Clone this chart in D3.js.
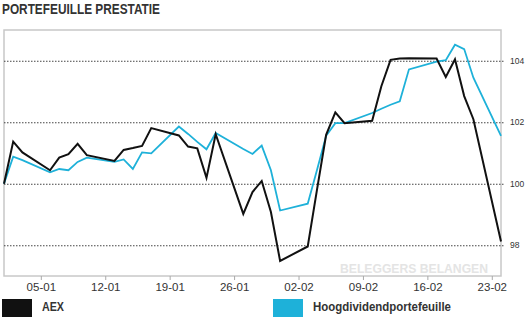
<!DOCTYPE html>
<html>
<head>
<meta charset="utf-8">
<script src="https://cdn.jsdelivr.net/npm/d3@7"></script>
<style>
body { margin: 0; background: #fff; }
svg { display: block; font-family: "Liberation Sans", Arial, sans-serif; }
</style>
</head>
<body>
<div id="graph"></div>
<script>
// trading days shown in the chart
var dates = ["2014-01-01","2014-01-02","2014-01-03","2014-01-06","2014-01-07","2014-01-08","2014-01-09","2014-01-10",
  "2014-01-13","2014-01-14","2014-01-15","2014-01-16","2014-01-17","2014-01-20","2014-01-21","2014-01-22","2014-01-23","2014-01-24",
  "2014-01-27","2014-01-28","2014-01-29","2014-01-30","2014-01-31","2014-02-03","2014-02-04","2014-02-05","2014-02-06","2014-02-07",
  "2014-02-10","2014-02-11","2014-02-12","2014-02-13","2014-02-14","2014-02-17","2014-02-18","2014-02-19","2014-02-20","2014-02-21",
  "2014-02-24"];

var aex = [100.0, 101.37, 101.02, 100.44, 100.85, 100.96, 101.30, 100.93,
  100.74, 101.10, 101.16, 101.23, 101.81, 101.57, 101.21, 101.15, 100.19, 101.61,
  99.02, 99.73, 100.09, 99.08, 97.49, 97.96, 99.79, 101.59, 102.32, 101.97,
  102.05, 103.17, 104.03, 104.07, 104.08, 104.07, 103.47, 104.05, 102.85, 102.10,
  98.12];

var hoog = [100.0, 100.88, 100.77, 100.37, 100.48, 100.44, 100.71, 100.85,
  100.71, 100.79, 100.48, 101.02, 100.99, 101.86, 101.62, 101.36, 101.12, 101.65,
  101.13, 100.97, 101.24, 100.44, 99.13, 99.35, 100.44, 101.56, 101.97, 101.97,
  102.30, 102.44, 102.57, 102.68, 103.72, 103.97, 104.02, 104.52, 104.38, 103.45,
  101.56];

var yTicks = [98, 100, 102, 104];
var seriesNames = ["AEX", "Hoogdividendportefeuille"];
var colors = ["#111111", "#1eb1d9"];

var width = 528, height = 320;
var plot = {left: 4, right: 501, top: 30, bottom: 276};

var parse = d3.utcParse("%Y-%m-%d");
var days = dates.map(parse);

var x = d3.scaleUtc()
  .domain([parse("2014-01-01"), parse("2014-02-24")])
  .range([plot.left, plot.right]);
var y = d3.scaleLinear()
  .domain([97, 105])
  .range([plot.bottom, plot.top]);

var svg = d3.select("#graph").append("svg")
  .attr("width", width)
  .attr("height", height);

// title
svg.append("text")
  .attr("x", 2).attr("y", 14)
  .attr("font-size", 15).attr("font-weight", "bold")
  .attr("fill", "#333")
  .attr("textLength", 158).attr("lengthAdjust", "spacingAndGlyphs")
  .text("PORTEFEUILLE PRESTATIE");

// frame
svg.append("rect")
  .attr("x", plot.left).attr("y", plot.top)
  .attr("width", plot.right - plot.left).attr("height", plot.bottom - plot.top)
  .attr("fill", "none").attr("stroke", "#c8c8c8").attr("stroke-width", 1.5);

// watermark
svg.append("text")
  .attr("x", 340).attr("y", 273)
  .attr("font-size", 13).attr("font-weight", "bold")
  .attr("fill", "#e4e4e4")
  .attr("textLength", 148).attr("lengthAdjust", "spacingAndGlyphs")
  .text("BELEGGERS BELANGEN");

// gridlines + right axis
var yAxis = svg.append("g")
  .attr("transform", "translate(" + plot.left + ",0)")
  .call(d3.axisRight(y).tickValues(yTicks).tickSize(plot.right - plot.left + 4).tickPadding(5));
yAxis.select(".domain").remove();
yAxis.selectAll("line")
  .attr("stroke", "#444").attr("stroke-dasharray", "1.5,1.5");
yAxis.selectAll("text")
  .attr("font-size", 8.5).attr("fill", "#333")
  .attr("font-family", "Liberation Sans, Arial, sans-serif");

// x axis
var xAxis = svg.append("g")
  .attr("transform", "translate(0," + plot.bottom + ")")
  .call(d3.axisBottom(x).ticks(d3.utcWeek).tickFormat(d3.utcFormat("%d-%m")).tickSize(4).tickPadding(3));
xAxis.select(".domain").remove();
xAxis.selectAll("line").attr("stroke", "#aaa");
xAxis.selectAll("text")
  .attr("font-size", 11.5).attr("fill", "#333")
  .attr("font-family", "Liberation Sans, Arial, sans-serif");

// lines
var line = function(vals) {
  return d3.line()
    .x(function(d, i) { return x(days[i]); })
    .y(function(d) { return y(d); })(vals);
};

svg.append("path")
  .attr("d", line(hoog))
  .attr("fill", "none").attr("stroke", colors[1]).attr("stroke-width", 1.8)
  .attr("stroke-linejoin", "miter");
svg.append("path")
  .attr("d", line(aex))
  .attr("fill", "none").attr("stroke", colors[0]).attr("stroke-width", 2)
  .attr("stroke-linejoin", "miter");

// legend
var legendX = [2, 273];
var legendW = [22, 138];
var legend = svg.selectAll(".legend")
  .data(seriesNames)
  .enter().append("g")
  .attr("class", "legend")
  .attr("transform", function(d, i) { return "translate(" + legendX[i] + ",299)"; });
legend.append("rect")
  .attr("width", 30).attr("height", 18)
  .attr("fill", function(d, i) { return colors[i]; });
legend.append("text")
  .attr("x", 40).attr("y", 12)
  .attr("font-size", 13).attr("font-weight", "bold")
  .attr("fill", "#333")
  .attr("textLength", function(d, i) { return legendW[i]; })
  .attr("lengthAdjust", "spacingAndGlyphs")
  .text(function(d) { return d; });
</script>
</body>
</html>
